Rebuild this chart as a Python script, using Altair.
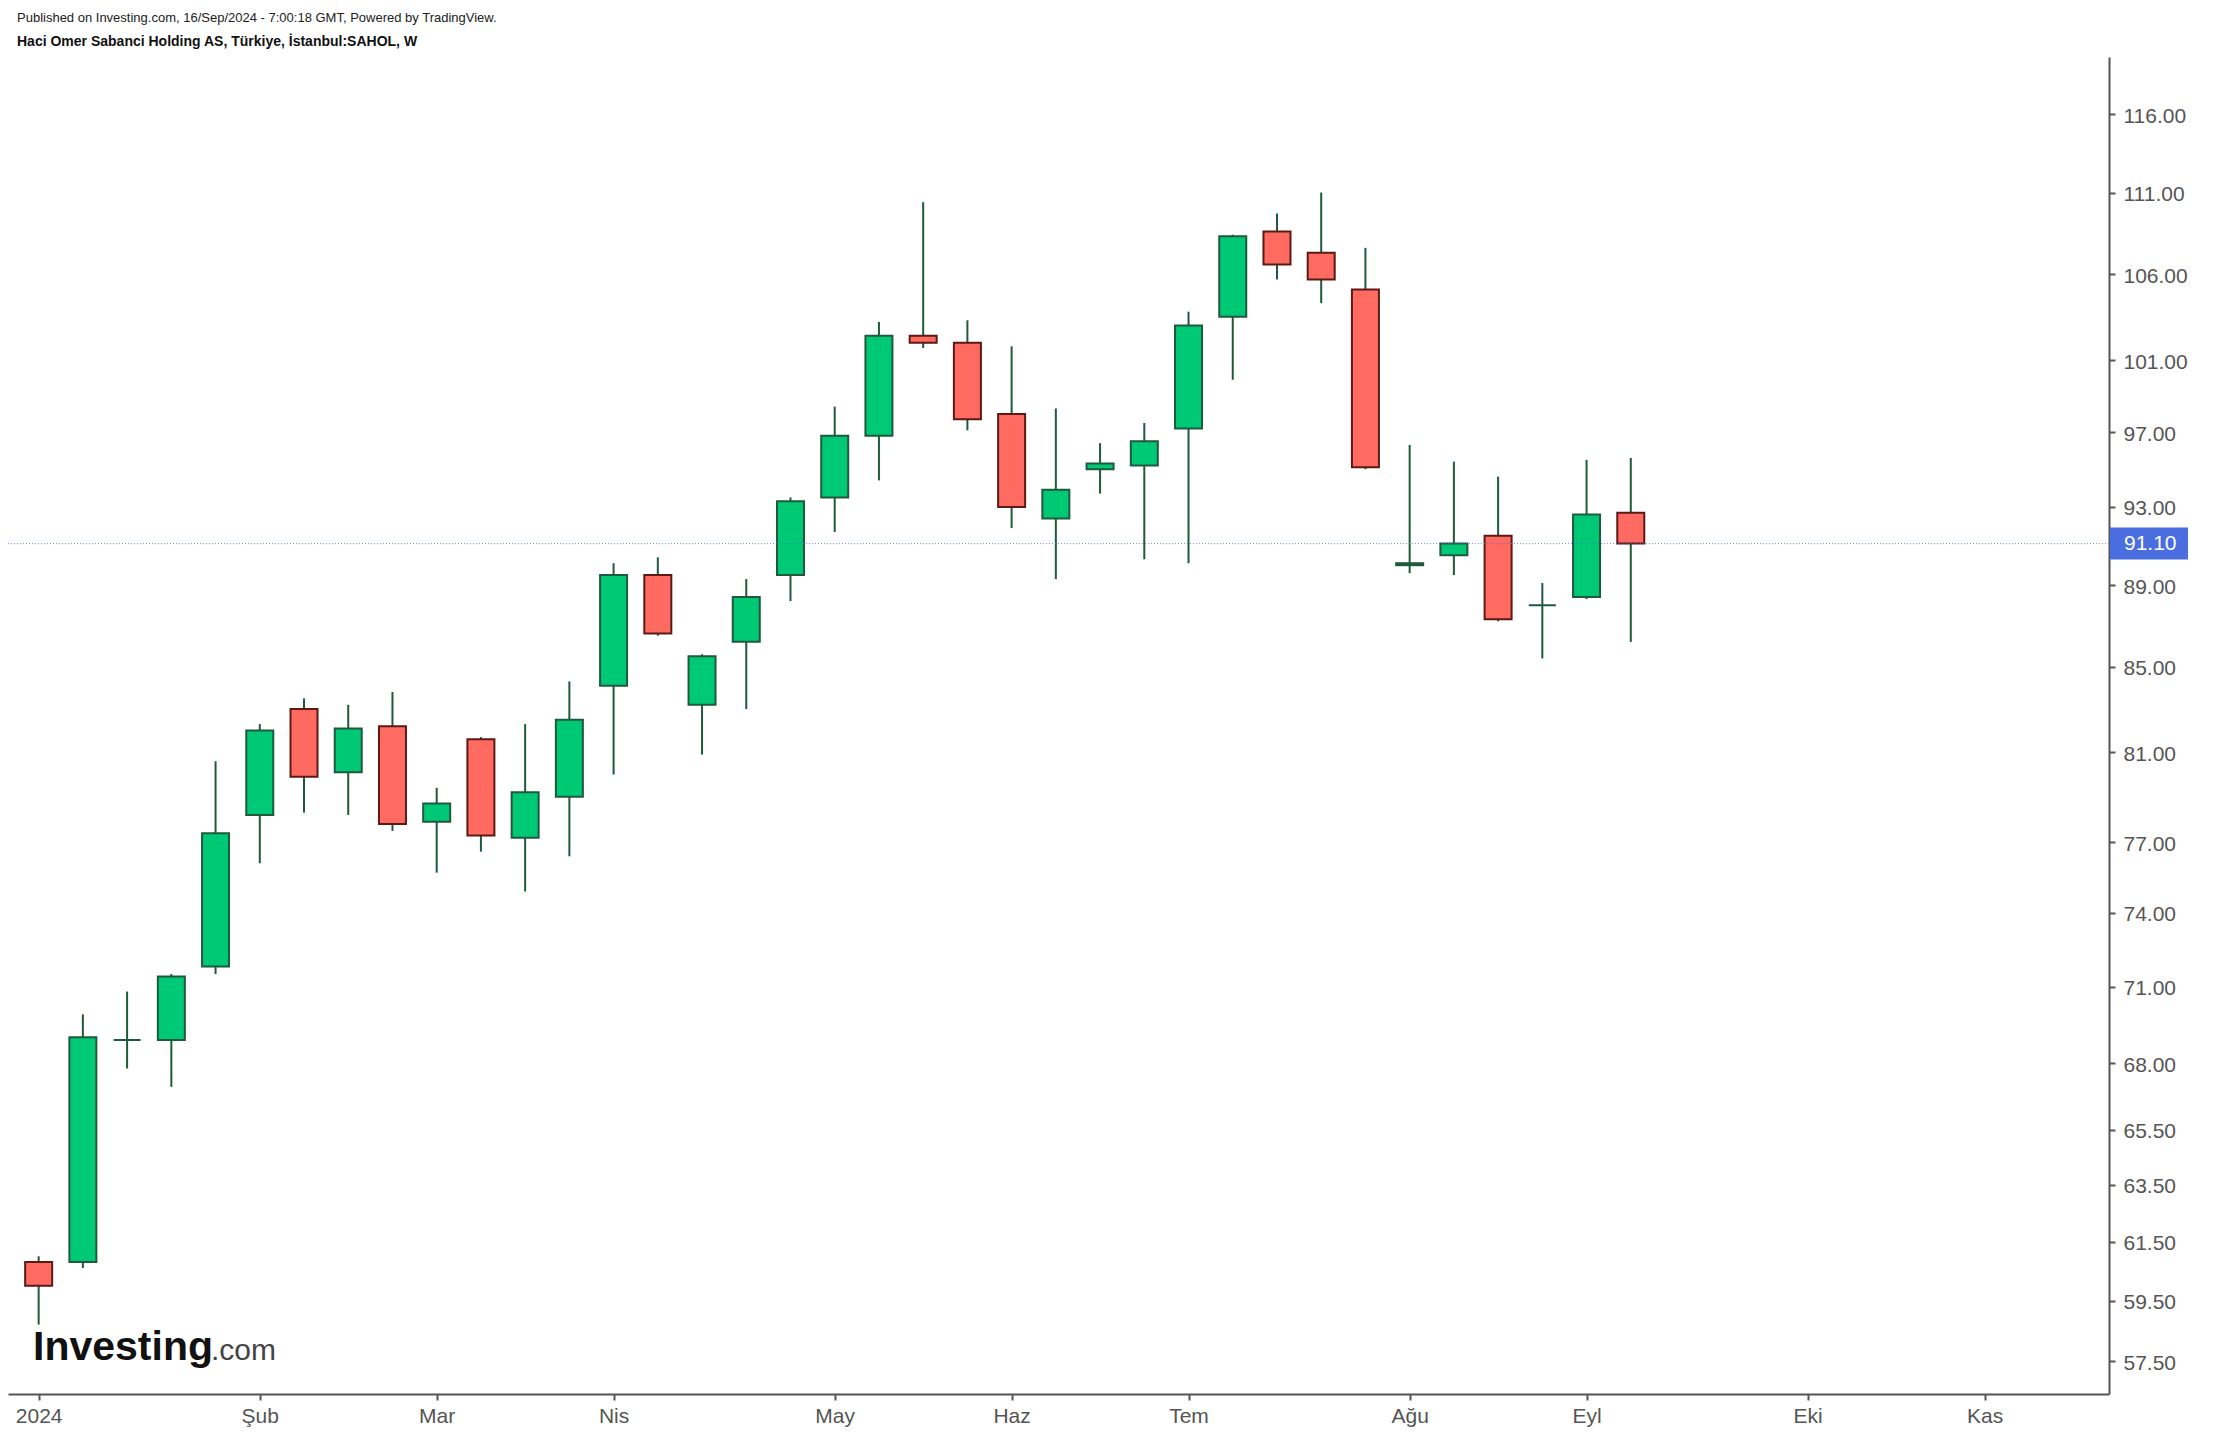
import altair as alt
import pandas as pd

# Weekly candles, Jan 2024 - Sep 2024 (index 0 = week of 1 Jan 2024)
opens  = [60.8, 60.8, 68.9, 68.9, 71.8, 78.2, 83.0, 80.1, 82.2, 77.9, 81.6, 77.2, 79.0,
          84.1, 89.5, 83.2, 86.2, 89.5, 93.5, 96.8, 102.4, 102.0, 98.0, 92.4, 95.0, 95.2,
          97.2, 103.5, 108.6, 107.3, 105.1, 90.0, 90.5, 91.5, 88.0, 88.4, 92.7]
highs  = [61.0, 69.9, 70.8, 71.5, 80.6, 82.3, 83.5, 83.2, 83.8, 79.4, 81.7, 82.3, 84.3,
          90.1, 90.4, 85.6, 89.3, 93.5, 98.4, 103.2, 110.4, 103.3, 101.8, 98.3, 96.4, 97.5,
          103.8, 108.4, 109.7, 111.0, 107.6, 96.3, 95.4, 94.6, 89.1, 95.5, 95.6]
lows   = [58.7, 60.6, 67.8, 67.1, 71.5, 76.1, 78.3, 78.2, 77.5, 75.7, 76.6, 74.9, 76.4,
          80.0, 86.5, 80.9, 83.0, 88.2, 91.7, 94.4, 101.7, 97.1, 91.9, 89.3, 93.7, 90.3,
          90.1, 99.9, 105.7, 104.3, 95.0, 89.6, 89.5, 87.2, 85.4, 88.3, 86.2]
closes = [60.0, 69.0, 68.9, 71.4, 77.4, 82.0, 79.9, 82.1, 77.8, 78.7, 77.3, 79.2, 82.5,
          89.5, 86.6, 85.5, 88.4, 93.3, 96.8, 102.4, 102.0, 97.7, 93.0, 93.9, 95.3, 96.5,
          103.0, 108.3, 106.6, 105.7, 95.1, 90.1, 91.1, 87.3, 88.0, 92.6, 91.1]

y_ticks = [57.5, 59.5, 61.5, 63.5, 65.5, 68, 71, 74, 77, 81, 85, 89, 93, 97, 101, 106, 111, 116]
x_tick_pos = [0, 5, 9, 13, 18, 22, 26, 31, 35, 40, 44]
x_tick_lab = ["2024", "Şub", "Mar", "Nis", "May", "Haz", "Tem", "Ağu", "Eyl", "Eki", "Kas"]
last_price = [91.10]

GREEN = "#00C975"
RED = "#FF6A61"
WICK = "#1E5A3B"
RED_EDGE = "#5C1A16"
BLUE = "#4A6EE0"
AX = "#555555"

df = pd.DataFrame({
    "i": list(range(len(opens))),
    "open": opens, "high": highs, "low": lows, "close": closes,
})
df["dir"] = ["up" if c >= o else "down" for o, c in zip(opens, closes)]

W, H = 2101, 1337
xscale = alt.Scale(domain=[-0.58, 46.7], nice=False, zero=False)
yscale = alt.Scale(type="log", domain=[56.45, 119.8], nice=False, zero=False)

lab_expr = "[" + ",".join("'%s'" % s for s in x_tick_lab) + "][indexof([" + \
    ",".join(str(v) for v in x_tick_pos) + "], datum.value)]"

xaxis = alt.Axis(values=x_tick_pos, labelExpr=lab_expr, title=None, grid=False,
                 tickSize=6, tickWidth=2, domainWidth=2, tickColor=AX, domainColor=AX,
                 labelColor=AX, labelFontSize=21, labelFont="Arial, Liberation Sans",
                 labelPadding=5, labelFlush=False, labelOverlap=False)
yaxis = alt.Axis(orient="right", values=y_ticks, format=".2f", title=None, grid=False,
                 tickSize=6, tickWidth=2, domainWidth=2, tickColor=AX, domainColor=AX,
                 labelColor=AX, labelFontSize=21, labelFont="Arial, Liberation Sans",
                 labelPadding=8, labelOffset=2, labelOverlap=False, labelFlush=False)

base = alt.Chart(df)

wicks = base.mark_rule(color=WICK, strokeWidth=2).encode(
    x=alt.X("i:Q", scale=xscale, axis=xaxis),
    y=alt.Y("low:Q", scale=yscale, axis=yaxis),
    y2="high:Q",
)

bodies = base.mark_bar(size=27, strokeWidth=2).encode(
    x=alt.X("i:Q"),
    y=alt.Y("open:Q"),
    y2="close:Q",
    fill=alt.Fill("dir:N", scale=alt.Scale(domain=["up", "down"], range=[GREEN, RED]), legend=None),
    stroke=alt.Stroke("dir:N", scale=alt.Scale(domain=["up", "down"], range=[WICK, RED_EDGE]), legend=None),
)

pdf = pd.DataFrame({"p": last_price, "lab": ["%.2f" % v for v in last_price]})
pbase = alt.Chart(pdf)
pline = pbase.mark_rule(color=BLUE, strokeWidth=1, strokeDash=[1, 2], opacity=0.8).encode(
    y=alt.Y("p:Q")
)
pbox = pbase.mark_point(
    shape="M-1,-0.41 L1,-0.41 L1,0.41 L-1,0.41 Z",
    filled=True, size=6084, color=BLUE, opacity=1, strokeWidth=0,
).encode(x=alt.value(W + 40), y=alt.Y("p:Q"))
ptext = pbase.mark_text(align="left", baseline="middle", color="white", fontSize=21,
                        font="Arial, Liberation Sans").encode(
    x=alt.value(W + 15), y=alt.Y("p:Q"), text="lab:N"
)

logo_df = pd.DataFrame({"t1": ["Investing"], "t2": [".com"]})
logo1 = alt.Chart(logo_df).mark_text(align="left", baseline="alphabetic", fontSize=41,
                                     fontWeight="bold", font="Arial, Liberation Sans",
                                     color="#111111").encode(
    x=alt.value(25), y=alt.value(1303), text="t1:N")
logo2 = alt.Chart(logo_df).mark_text(align="left", baseline="alphabetic", fontSize=30,
                                     font="Arial, Liberation Sans", color="#444444").encode(
    x=alt.value(203), y=alt.value(1303), text="t2:N")

chart = alt.layer(wicks, bodies, pline, pbox, ptext, logo1, logo2).properties(
    width=W, height=H,
    title=alt.TitleParams(
        text="Published on Investing.com, 16/Sep/2024 - 7:00:18 GMT, Powered by TradingView.",
        subtitle="Haci Omer Sabanci Holding AS, Türkiye, İstanbul:SAHOL, W",
        anchor="start", frame="group", dx=9, offset=8,
        font="Liberation Sans Narrow, Arial Narrow, Liberation Sans", fontSize=13,
        fontWeight="normal", color="#222222",
        subtitleFont="Liberation Sans Narrow, Arial Narrow, Liberation Sans",
        subtitleFontSize=14, subtitleFontWeight="bold", subtitleColor="#111111",
        subtitlePadding=10,
    ),
    autosize=alt.AutoSizeParams(type="none"),
    padding={"left": 0, "top": 49, "right": 105, "bottom": 40},
).configure(background="white", view=alt.ViewConfig(stroke=None))

chart.save("out.html", embed_options={"renderer": "svg", "actions": False})
